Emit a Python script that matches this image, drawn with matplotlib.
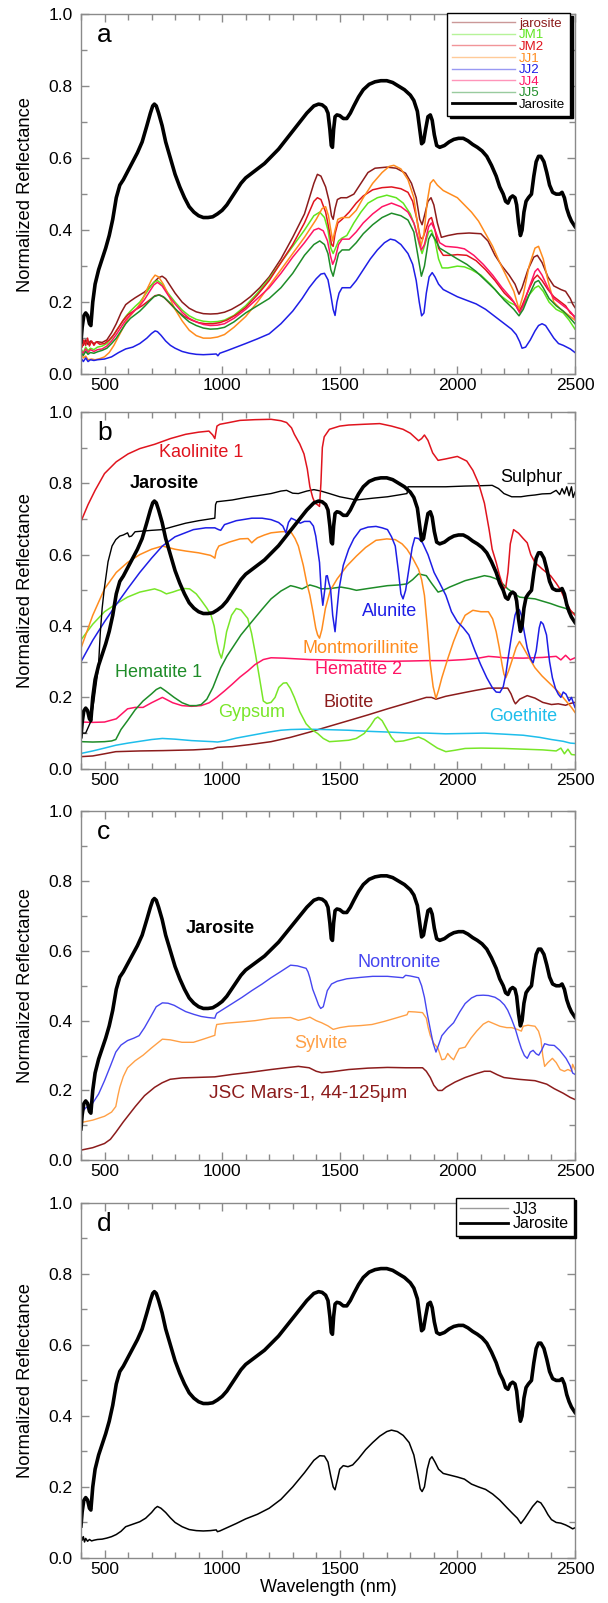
import matplotlib
matplotlib.use("Agg")
import matplotlib.pyplot as plt
from matplotlib.ticker import MultipleLocator, FormatStrFormatter
from matplotlib.lines import Line2D

plt.rcParams['font.family'] = ['Liberation Sans', 'DejaVu Sans']

# ---------------- data: (wavelength nm, normalized reflectance) ----------------
jarosite_ref = [(400,0.09),(405,0.13),(412,0.162),(420,0.17),(428,0.163),(436,0.14),(442,0.135),(450,0.2),(460,0.25),(475,0.29),(490,0.32),(505,0.35),(520,0.385),(535,0.43),(550,0.49),(565,0.525),(580,0.54),(600,0.565),(620,0.59),(640,0.615),(660,0.645),(680,0.69),(695,0.725),(705,0.745),(712,0.75),(720,0.745),(730,0.725),(745,0.69),(760,0.645),(780,0.6),(800,0.555),(820,0.52),(840,0.49),(860,0.465),(880,0.45),(900,0.44),(920,0.435),(940,0.435),(960,0.437),(980,0.445),(1000,0.455),(1020,0.47),(1040,0.49),(1060,0.51),(1080,0.53),(1100,0.545),(1120,0.555),(1150,0.57),(1180,0.585),(1210,0.605),(1240,0.625),(1270,0.65),(1300,0.675),(1330,0.7),(1360,0.725),(1390,0.745),(1410,0.75),(1425,0.748),(1440,0.74),(1450,0.725),(1458,0.68),(1464,0.635),(1469,0.63),(1474,0.68),(1480,0.715),(1488,0.72),(1500,0.718),(1515,0.71),(1530,0.71),(1545,0.725),(1560,0.745),(1580,0.77),(1600,0.79),(1625,0.805),(1650,0.812),(1675,0.815),(1700,0.815),(1725,0.81),(1750,0.8),(1775,0.79),(1800,0.775),(1815,0.76),(1830,0.73),(1840,0.68),(1848,0.64),(1856,0.645),(1865,0.68),(1875,0.715),(1885,0.72),(1893,0.705),(1902,0.665),(1912,0.635),(1925,0.63),(1945,0.635),(1965,0.645),(1985,0.652),(2005,0.655),(2025,0.655),(2045,0.648),(2065,0.638),(2085,0.63),(2105,0.62),(2125,0.605),(2145,0.58),(2165,0.55),(2180,0.52),(2195,0.5),(2205,0.48),(2215,0.475),(2225,0.49),(2235,0.495),(2245,0.49),(2252,0.47),(2260,0.42),(2268,0.385),(2275,0.4),(2283,0.45),(2292,0.48),(2302,0.49),(2315,0.5),(2325,0.55),(2335,0.59),(2345,0.605),(2355,0.605),(2368,0.59),(2380,0.56),(2392,0.525),(2405,0.505),(2420,0.5),(2435,0.5),(2445,0.505),(2455,0.49),(2465,0.46),(2475,0.44),(2485,0.425),(2500,0.41)]

# panel a samples
jarosite_lab = [(400,0.09),(410,0.08),(420,0.095),(430,0.082),(440,0.092),(455,0.085),(470,0.09),(490,0.088),(510,0.095),(530,0.115),(550,0.14),(570,0.17),(590,0.193),(610,0.203),(630,0.212),(650,0.22),(670,0.228),(690,0.24),(710,0.255),(730,0.268),(745,0.272),(760,0.265),(780,0.245),(800,0.225),(830,0.2),(860,0.183),(890,0.173),(920,0.168),(950,0.167),(980,0.168),(1010,0.172),(1040,0.18),(1080,0.195),(1120,0.215),(1160,0.24),(1200,0.27),(1250,0.32),(1300,0.38),(1350,0.445),(1390,0.53),(1405,0.555),(1420,0.55),(1440,0.52),(1455,0.48),(1465,0.44),(1472,0.43),(1480,0.46),(1490,0.485),(1505,0.49),(1530,0.49),(1560,0.5),(1590,0.53),(1620,0.56),(1650,0.572),(1700,0.575),(1740,0.572),(1780,0.558),(1805,0.53),(1825,0.49),(1840,0.43),(1850,0.415),(1860,0.44),(1875,0.48),(1888,0.49),(1900,0.47),(1915,0.42),(1932,0.38),(1960,0.385),(2000,0.39),(2050,0.392),(2100,0.39),(2130,0.37),(2160,0.33),(2190,0.3),(2220,0.275),(2245,0.25),(2262,0.222),(2275,0.24),(2300,0.29),(2325,0.325),(2340,0.33),(2360,0.31),(2385,0.27),(2410,0.245),(2440,0.235),(2460,0.23),(2470,0.22),(2480,0.21),(2490,0.195),(2500,0.185)]
jm1 = [(400,0.07),(410,0.06),(420,0.075),(430,0.065),(440,0.072),(455,0.068),(470,0.075),(490,0.078),(510,0.085),(530,0.1),(550,0.12),(570,0.14),(590,0.16),(610,0.175),(630,0.188),(650,0.2),(670,0.218),(690,0.238),(710,0.255),(725,0.26),(745,0.25),(770,0.225),(800,0.2),(830,0.178),(860,0.162),(890,0.152),(920,0.147),(950,0.145),(980,0.146),(1010,0.15),(1050,0.163),(1100,0.19),(1150,0.225),(1200,0.265),(1250,0.31),(1300,0.355),(1350,0.4),(1390,0.44),(1415,0.45),(1435,0.435),(1450,0.4),(1462,0.35),(1472,0.335),(1482,0.35),(1495,0.37),(1510,0.378),(1530,0.385),(1560,0.42),(1590,0.45),(1620,0.475),(1660,0.49),(1700,0.497),(1740,0.49),(1770,0.475),(1800,0.445),(1820,0.41),(1838,0.36),(1850,0.335),(1862,0.36),(1878,0.395),(1890,0.4),(1905,0.37),(1920,0.32),(1935,0.295),(1960,0.295),(2000,0.3),(2030,0.298),(2060,0.29),(2100,0.275),(2140,0.25),(2180,0.22),(2220,0.2),(2250,0.19),(2265,0.18),(2280,0.19),(2305,0.22),(2330,0.24),(2345,0.245),(2365,0.23),(2390,0.2),(2420,0.18),(2450,0.17),(2475,0.15),(2500,0.125)]
jm2 = [(400,0.09),(405,0.075),(412,0.095),(420,0.08),(428,0.1),(436,0.078),(445,0.092),(455,0.08),(465,0.09),(480,0.083),(500,0.085),(520,0.095),(540,0.11),(560,0.13),(580,0.15),(600,0.165),(630,0.178),(660,0.19),(690,0.205),(715,0.218),(735,0.22),(755,0.212),(780,0.195),(810,0.175),(840,0.16),(870,0.15),(900,0.143),(930,0.14),(960,0.14),(990,0.143),(1020,0.15),(1060,0.165),(1100,0.185),(1150,0.22),(1200,0.26),(1250,0.31),(1300,0.36),(1350,0.42),(1390,0.48),(1405,0.49),(1420,0.485),(1440,0.45),(1455,0.4),(1465,0.36),(1472,0.355),(1480,0.39),(1492,0.42),(1510,0.43),(1540,0.45),(1570,0.475),(1600,0.495),(1640,0.512),(1680,0.518),(1720,0.52),(1760,0.515),(1790,0.505),(1810,0.48),(1828,0.43),(1842,0.38),(1852,0.375),(1865,0.4),(1880,0.43),(1890,0.435),(1905,0.4),(1920,0.35),(1940,0.33),(1970,0.33),(2000,0.332),(2040,0.33),(2080,0.315),(2120,0.29),(2160,0.26),(2200,0.225),(2240,0.2),(2262,0.175),(2275,0.19),(2300,0.23),(2325,0.265),(2340,0.275),(2360,0.26),(2385,0.235),(2410,0.215),(2440,0.2),(2460,0.19),(2480,0.17),(2500,0.16)]
jj1 = [(400,0.06),(410,0.045),(420,0.05),(430,0.04),(445,0.042),(460,0.04),(480,0.043),(500,0.048),(520,0.06),(540,0.08),(560,0.105),(580,0.13),(600,0.155),(620,0.17),(640,0.185),(660,0.205),(680,0.235),(700,0.262),(715,0.275),(730,0.27),(750,0.25),(775,0.215),(800,0.18),(830,0.148),(860,0.122),(890,0.107),(920,0.1),(950,0.1),(980,0.103),(1010,0.11),(1050,0.13),(1100,0.16),(1150,0.2),(1200,0.245),(1250,0.29),(1300,0.335),(1350,0.38),(1400,0.43),(1425,0.46),(1440,0.465),(1452,0.44),(1462,0.4),(1470,0.37),(1480,0.4),(1492,0.43),(1510,0.435),(1540,0.435),(1570,0.455),(1600,0.49),(1640,0.53),(1680,0.56),(1710,0.577),(1730,0.58),(1760,0.57),(1790,0.54),(1815,0.49),(1830,0.42),(1845,0.355),(1858,0.39),(1872,0.48),(1885,0.53),(1898,0.54),(1915,0.525),(1940,0.51),(1970,0.5),(2000,0.49),(2030,0.47),(2060,0.45),(2090,0.425),(2120,0.39),(2150,0.355),(2180,0.31),(2210,0.27),(2240,0.23),(2262,0.18),(2280,0.22),(2305,0.3),(2330,0.35),(2345,0.355),(2365,0.32),(2385,0.26),(2410,0.2),(2440,0.18),(2470,0.165),(2500,0.15)]
jj2 = [(400,0.045),(410,0.035),(420,0.045),(430,0.035),(440,0.04),(455,0.038),(470,0.04),(500,0.042),(530,0.048),(560,0.06),(590,0.07),(620,0.075),(650,0.085),(680,0.1),(700,0.113),(715,0.12),(725,0.118),(740,0.108),(760,0.092),(780,0.08),(800,0.072),(830,0.063),(860,0.058),(890,0.055),(920,0.054),(950,0.055),(975,0.056),(982,0.051),(990,0.058),(1020,0.065),(1060,0.075),(1100,0.085),(1150,0.098),(1200,0.112),(1250,0.14),(1300,0.175),(1340,0.21),(1370,0.24),(1400,0.265),(1420,0.278),(1435,0.28),(1450,0.262),(1462,0.22),(1472,0.18),(1480,0.163),(1488,0.2),(1497,0.225),(1510,0.24),(1525,0.24),(1545,0.24),(1570,0.26),(1600,0.29),(1630,0.32),(1660,0.345),(1690,0.365),(1715,0.375),(1735,0.372),(1760,0.36),(1790,0.335),(1810,0.305),(1825,0.26),(1838,0.2),(1848,0.162),(1858,0.17),(1868,0.225),(1880,0.27),(1893,0.282),(1905,0.27),(1920,0.25),(1940,0.235),(1970,0.225),(2000,0.215),(2040,0.205),(2080,0.195),(2120,0.18),(2160,0.16),(2200,0.14),(2230,0.125),(2250,0.11),(2265,0.09),(2275,0.072),(2290,0.075),(2310,0.095),(2330,0.12),(2345,0.135),(2360,0.14),(2375,0.135),(2390,0.12),(2410,0.1),(2430,0.085),(2450,0.08),(2465,0.075),(2480,0.07),(2490,0.065),(2500,0.06)]
jj4 = [(400,0.065),(410,0.058),(420,0.07),(430,0.06),(440,0.068),(455,0.063),(470,0.068),(490,0.07),(510,0.078),(530,0.092),(550,0.11),(570,0.13),(590,0.15),(610,0.165),(630,0.178),(650,0.19),(670,0.207),(690,0.228),(710,0.248),(725,0.255),(745,0.245),(770,0.22),(800,0.195),(830,0.172),(860,0.155),(890,0.145),(920,0.138),(950,0.135),(980,0.136),(1010,0.14),(1050,0.155),(1100,0.18),(1150,0.21),(1200,0.24),(1250,0.28),(1300,0.325),(1350,0.365),(1390,0.4),(1410,0.405),(1430,0.398),(1448,0.37),(1460,0.33),(1470,0.305),(1480,0.32),(1495,0.36),(1510,0.375),(1540,0.375),(1570,0.395),(1600,0.42),(1640,0.445),(1680,0.465),(1720,0.475),(1760,0.465),(1790,0.45),(1815,0.42),(1832,0.38),(1847,0.345),(1860,0.36),(1878,0.41),(1890,0.42),(1905,0.4),(1925,0.365),(1950,0.355),(2000,0.352),(2030,0.348),(2070,0.33),(2110,0.305),(2150,0.275),(2190,0.24),(2230,0.21),(2250,0.19),(2265,0.17),(2280,0.19),(2305,0.24),(2330,0.285),(2342,0.293),(2360,0.275),(2385,0.24),(2410,0.21),(2440,0.195),(2470,0.18),(2485,0.17),(2500,0.155)]
jj5 = [(400,0.06),(410,0.052),(420,0.063),(430,0.055),(440,0.06),(455,0.058),(470,0.062),(490,0.066),(510,0.072),(530,0.085),(550,0.1),(570,0.12),(590,0.14),(610,0.155),(630,0.165),(650,0.175),(670,0.188),(690,0.202),(710,0.215),(730,0.22),(750,0.215),(775,0.2),(800,0.182),(830,0.162),(860,0.145),(890,0.135),(920,0.128),(950,0.125),(980,0.126),(1010,0.13),(1050,0.145),(1100,0.17),(1150,0.19),(1200,0.21),(1250,0.24),(1300,0.28),(1350,0.33),(1390,0.36),(1415,0.37),(1435,0.36),(1450,0.335),(1462,0.29),(1472,0.272),(1482,0.3),(1495,0.335),(1510,0.345),(1540,0.345),(1570,0.365),(1600,0.39),(1640,0.415),(1680,0.435),(1720,0.447),(1760,0.44),(1790,0.428),(1815,0.395),(1832,0.33),(1847,0.272),(1860,0.3),(1878,0.375),(1890,0.39),(1905,0.375),(1925,0.35),(1950,0.34),(2000,0.32),(2040,0.305),(2080,0.285),(2120,0.26),(2160,0.235),(2200,0.205),(2240,0.18),(2262,0.162),(2280,0.18),(2305,0.22),(2330,0.255),(2345,0.26),(2365,0.24),(2390,0.21),(2420,0.19),(2450,0.175),(2480,0.155),(2500,0.14)]

# panel b reference minerals
kaolinite = [(400,0.693),(430,0.74),(460,0.78),(500,0.827),(550,0.86),(600,0.882),(650,0.897),(713,0.909),(780,0.925),(845,0.937),(900,0.943),(944,0.946),(960,0.935),(969,0.925),(978,0.96),(990,0.965),(1030,0.97),(1076,0.976),(1140,0.978),(1208,0.979),(1250,0.975),(1274,0.97),(1295,0.955),(1307,0.937),(1330,0.91),(1348,0.882),(1362,0.84),(1373,0.79),(1385,0.76),(1395,0.744),(1405,0.74),(1414,0.735),(1420,0.8),(1426,0.9),(1434,0.93),(1456,0.951),(1500,0.96),(1538,0.963),(1600,0.965),(1670,0.967),(1720,0.96),(1769,0.951),(1800,0.94),(1835,0.919),(1848,0.925),(1860,0.935),(1875,0.92),(1895,0.885),(1918,0.864),(1950,0.868),(2000,0.875),(2040,0.862),(2066,0.836),(2090,0.8),(2115,0.744),(2135,0.67),(2148,0.615),(2165,0.578),(2180,0.54),(2198,0.504),(2206,0.51),(2215,0.55),(2225,0.63),(2239,0.67),(2260,0.66),(2280,0.645),(2297,0.633),(2312,0.6),(2330,0.578),(2360,0.56),(2396,0.541),(2420,0.52),(2440,0.5),(2462,0.467),(2480,0.445),(2500,0.43)]
sulphur = [(400,0.1),(420,0.1),(440,0.13),(455,0.19),(465,0.24),(474,0.283),(482,0.38),(490,0.45),(499,0.504),(515,0.58),(532,0.624),(548,0.642),(565,0.652),(580,0.655),(598,0.661),(605,0.65),(615,0.652),(630,0.664),(664,0.666),(700,0.668),(746,0.67),(800,0.68),(845,0.688),(900,0.695),(969,0.702),(972,0.74),(977,0.748),(1043,0.753),(1100,0.76),(1150,0.765),(1208,0.771),(1250,0.778),(1274,0.78),(1300,0.772),(1324,0.771),(1360,0.778),(1390,0.782),(1420,0.778),(1456,0.771),(1500,0.762),(1571,0.753),(1640,0.758),(1703,0.762),(1750,0.767),(1786,0.771),(1790,0.79),(1868,0.79),(1950,0.79),(2033,0.792),(2100,0.793),(2148,0.794),(2175,0.785),(2198,0.771),(2231,0.762),(2270,0.762),(2300,0.765),(2330,0.767),(2360,0.77),(2396,0.771),(2420,0.78),(2435,0.768),(2445,0.785),(2455,0.77),(2465,0.79),(2475,0.765),(2485,0.79),(2492,0.76),(2500,0.775)]
alunite = [(400,0.3),(450,0.36),(500,0.412),(550,0.46),(598,0.504),(650,0.55),(700,0.59),(746,0.624),(800,0.65),(878,0.67),(930,0.675),(969,0.675),(985,0.67),(994,0.668),(1010,0.684),(1060,0.695),(1126,0.702),(1170,0.702),(1208,0.698),(1240,0.69),(1258,0.68),(1271,0.661),(1282,0.69),(1294,0.702),(1310,0.697),(1332,0.688),(1350,0.693),(1373,0.693),(1388,0.68),(1398,0.652),(1407,0.61),(1414,0.578),(1421,0.5),(1428,0.458),(1436,0.5),(1442,0.54),(1447,0.541),(1454,0.52),(1461,0.504),(1470,0.43),(1480,0.384),(1489,0.45),(1497,0.504),(1515,0.57),(1538,0.615),(1560,0.645),(1588,0.67),(1620,0.677),(1654,0.679),(1680,0.675),(1703,0.67),(1720,0.65),(1736,0.624),(1750,0.55),(1760,0.49),(1769,0.476),(1780,0.5),(1794,0.56),(1808,0.62),(1819,0.647),(1835,0.645),(1852,0.633),(1875,0.6),(1901,0.55),(1925,0.52),(1951,0.486),(1975,0.44),(2000,0.412),(2025,0.395),(2049,0.375),(2075,0.33),(2099,0.292),(2125,0.255),(2148,0.228),(2165,0.215),(2181,0.214),(2195,0.23),(2206,0.265),(2218,0.32),(2231,0.375),(2245,0.43),(2256,0.449),(2264,0.445),(2272,0.43),(2285,0.38),(2297,0.338),(2310,0.31),(2322,0.297),(2335,0.33),(2348,0.395),(2355,0.412),(2365,0.405),(2379,0.375),(2392,0.3),(2404,0.255),(2417,0.225),(2429,0.209),(2440,0.2),(2450,0.215),(2462,0.209),(2475,0.19),(2485,0.2),(2500,0.172)]
montmorillinite = [(400,0.338),(450,0.43),(500,0.504),(550,0.55),(598,0.578),(650,0.6),(700,0.615),(746,0.624),(800,0.615),(845,0.61),(900,0.605),(950,0.598),(961,0.594),(969,0.59),(975,0.61),(986,0.624),(1030,0.635),(1076,0.644),(1110,0.645),(1126,0.633),(1137,0.64),(1150,0.647),(1180,0.655),(1208,0.661),(1250,0.664),(1291,0.665),(1310,0.645),(1324,0.624),(1345,0.57),(1360,0.52),(1373,0.486),(1386,0.44),(1398,0.394),(1406,0.375),(1414,0.366),(1424,0.39),(1439,0.449),(1460,0.5),(1489,0.532),(1530,0.568),(1571,0.596),(1610,0.62),(1654,0.64),(1700,0.644),(1736,0.642),(1765,0.63),(1786,0.615),(1810,0.59),(1835,0.559),(1848,0.53),(1860,0.486),(1872,0.4),(1885,0.292),(1897,0.23),(1909,0.197),(1920,0.22),(1934,0.255),(1960,0.31),(1984,0.357),(2010,0.4),(2033,0.43),(2066,0.444),(2100,0.44),(2132,0.44),(2150,0.42),(2165,0.384),(2178,0.34),(2190,0.292),(2198,0.265),(2206,0.255),(2218,0.275),(2231,0.301),(2250,0.34),(2264,0.357),(2280,0.34),(2297,0.32),(2330,0.283),(2360,0.26),(2396,0.237),(2430,0.215),(2462,0.19),(2485,0.172),(2500,0.158)]
hematite1 = [(400,0.076),(450,0.075),(500,0.076),(530,0.078),(548,0.082),(570,0.11),(598,0.135),(630,0.165),(664,0.19),(700,0.21),(720,0.222),(738,0.228),(760,0.218),(796,0.2),(830,0.185),(862,0.177),(890,0.177),(911,0.18),(935,0.195),(961,0.228),(980,0.26),(994,0.283),(1020,0.315),(1043,0.338),(1080,0.375),(1126,0.412),(1170,0.447),(1208,0.476),(1250,0.498),(1291,0.513),(1310,0.51),(1340,0.504),(1373,0.515),(1400,0.51),(1423,0.504),(1460,0.505),(1505,0.509),(1540,0.505),(1571,0.5),(1620,0.505),(1703,0.513),(1750,0.515),(1786,0.518),(1810,0.53),(1835,0.546),(1868,0.541),(1890,0.52),(1918,0.495),(1940,0.5),(1967,0.509),(2000,0.518),(2033,0.527),(2080,0.535),(2115,0.541),(2140,0.538),(2165,0.532),(2190,0.52),(2214,0.504),(2240,0.492),(2264,0.481),(2300,0.478),(2330,0.476),(2360,0.47),(2396,0.463),(2430,0.455),(2462,0.449),(2480,0.44),(2500,0.435)]
hematite2 = [(400,0.131),(450,0.13),(500,0.131),(550,0.14),(598,0.168),(630,0.172),(664,0.172),(700,0.185),(746,0.2),(790,0.185),(829,0.177),(870,0.175),(911,0.177),(945,0.185),(977,0.2),(1010,0.218),(1043,0.237),(1076,0.257),(1109,0.274),(1140,0.292),(1175,0.306),(1208,0.311),(1260,0.31),(1373,0.306),(1450,0.305),(1538,0.303),(1620,0.302),(1703,0.301),(1800,0.302),(1868,0.303),(1950,0.303),(2033,0.306),(2090,0.31),(2132,0.315),(2170,0.313),(2198,0.311),(2280,0.31),(2363,0.312),(2420,0.315),(2440,0.305),(2460,0.318),(2480,0.305),(2500,0.311)]
gypsum = [(400,0.361),(450,0.405),(500,0.44),(550,0.462),(598,0.481),(650,0.495),(713,0.504),(740,0.498),(763,0.49),(790,0.495),(812,0.5),(840,0.505),(862,0.504),(890,0.49),(911,0.472),(935,0.45),(953,0.43),(966,0.4),(977,0.357),(988,0.325),(997,0.31),(1008,0.34),(1019,0.384),(1040,0.43),(1060,0.449),(1080,0.445),(1109,0.421),(1125,0.38),(1142,0.32),(1160,0.25),(1175,0.19),(1190,0.183),(1208,0.186),(1225,0.2),(1241,0.228),(1260,0.24),(1274,0.241),(1290,0.225),(1307,0.2),(1330,0.16),(1357,0.126),(1380,0.11),(1406,0.099),(1430,0.085),(1456,0.076),(1500,0.078),(1538,0.08),(1570,0.085),(1604,0.099),(1630,0.12),(1650,0.14),(1662,0.145),(1680,0.135),(1703,0.108),(1720,0.088),(1736,0.076),(1770,0.078),(1800,0.083),(1835,0.089),(1860,0.082),(1885,0.071),(1915,0.058),(1951,0.048),(1990,0.052),(2033,0.057),(2100,0.058),(2198,0.057),(2280,0.055),(2363,0.053),(2420,0.05),(2440,0.058),(2455,0.042),(2470,0.055),(2485,0.04),(2500,0.039)]
goethite = [(400,0.043),(450,0.05),(500,0.058),(548,0.066),(600,0.072),(650,0.077),(700,0.082),(746,0.085),(800,0.083),(870,0.079),(930,0.077),(961,0.076),(980,0.075),(1010,0.078),(1060,0.086),(1126,0.094),(1200,0.103),(1250,0.108),(1291,0.11),(1350,0.111),(1430,0.11),(1538,0.108),(1620,0.105),(1703,0.103),(1800,0.1),(1868,0.1),(1950,0.098),(2033,0.099),(2115,0.1),(2200,0.097),(2280,0.094),(2350,0.088),(2400,0.082),(2450,0.077),(2480,0.072),(2500,0.071)]
biotite = [(400,0.034),(450,0.036),(500,0.042),(548,0.048),(650,0.05),(750,0.051),(878,0.053),(960,0.056),(980,0.06),(1043,0.062),(1120,0.068),(1208,0.076),(1290,0.088),(1373,0.103),(1450,0.118),(1538,0.135),(1620,0.151),(1703,0.168),(1786,0.184),(1868,0.2),(1890,0.2),(1909,0.195),(1950,0.203),(2033,0.214),(2080,0.22),(2132,0.226),(2180,0.226),(2214,0.226),(2228,0.21),(2240,0.19),(2247,0.182),(2265,0.195),(2297,0.205),(2330,0.198),(2363,0.186),(2400,0.18),(2429,0.182),(2460,0.178),(2480,0.183),(2500,0.186)]

# panel c
nontronite = [(400,0.135),(420,0.15),(449,0.163),(475,0.19),(500,0.228),(525,0.27),(548,0.31),(570,0.33),(598,0.343),(625,0.35),(647,0.357),(670,0.38),(697,0.412),(720,0.44),(746,0.451),(770,0.45),(796,0.444),(820,0.435),(845,0.426),(880,0.418),(911,0.412),(940,0.409),(969,0.407),(973,0.415),(977,0.421),(1010,0.435),(1043,0.449),(1085,0.467),(1126,0.486),(1170,0.505),(1208,0.523),(1250,0.541),(1291,0.559),(1320,0.557),(1357,0.55),(1365,0.54),(1373,0.523),(1385,0.49),(1398,0.467),(1410,0.445),(1419,0.435),(1430,0.44),(1447,0.486),(1465,0.505),(1489,0.513),(1530,0.52),(1588,0.524),(1640,0.527),(1703,0.527),(1769,0.523),(1780,0.53),(1800,0.528),(1835,0.523),(1848,0.5),(1860,0.467),(1872,0.42),(1885,0.375),(1897,0.335),(1909,0.31),(1920,0.33),(1934,0.357),(1960,0.378),(1984,0.394),(2010,0.425),(2033,0.449),(2060,0.465),(2082,0.472),(2110,0.473),(2132,0.472),(2160,0.467),(2181,0.458),(2200,0.445),(2214,0.43),(2230,0.405),(2247,0.375),(2260,0.345),(2272,0.32),(2285,0.3),(2297,0.292),(2310,0.31),(2322,0.315),(2335,0.305),(2346,0.301),(2358,0.315),(2371,0.334),(2390,0.33),(2412,0.329),(2435,0.315),(2462,0.292),(2480,0.27),(2490,0.25),(2500,0.246)]
sylvite = [(400,0.108),(450,0.115),(500,0.126),(530,0.138),(548,0.154),(557,0.185),(565,0.209),(580,0.24),(598,0.265),(630,0.285),(664,0.301),(700,0.322),(746,0.347),(780,0.345),(829,0.338),(878,0.338),(920,0.347),(969,0.358),(972,0.375),(977,0.389),(1020,0.393),(1076,0.396),(1140,0.4),(1208,0.407),(1291,0.409),(1324,0.401),(1350,0.405),(1373,0.41),(1400,0.4),(1423,0.394),(1450,0.385),(1472,0.375),(1500,0.38),(1538,0.384),(1590,0.386),(1637,0.389),(1690,0.398),(1736,0.407),(1786,0.417),(1792,0.426),(1820,0.425),(1852,0.423),(1868,0.407),(1876,0.38),(1885,0.357),(1900,0.335),(1918,0.32),(1934,0.288),(1947,0.29),(1959,0.306),(1972,0.295),(1984,0.288),(1996,0.305),(2008,0.32),(2033,0.324),(2058,0.35),(2082,0.37),(2110,0.39),(2132,0.398),(2160,0.39),(2181,0.384),(2210,0.38),(2231,0.38),(2255,0.375),(2272,0.37),(2280,0.384),(2300,0.387),(2330,0.384),(2345,0.37),(2355,0.347),(2363,0.3),(2371,0.269),(2385,0.28),(2404,0.292),(2420,0.28),(2437,0.26),(2455,0.255),(2470,0.26),(2485,0.255),(2490,0.275),(2500,0.26)]
jsc_mars1 = [(400,0.029),(450,0.036),(500,0.048),(525,0.06),(548,0.08),(580,0.11),(631,0.154),(670,0.185),(713,0.209),(745,0.222),(779,0.232),(830,0.236),(878,0.237),(969,0.239),(1043,0.246),(1120,0.252),(1208,0.26),(1270,0.265),(1324,0.269),(1370,0.265),(1400,0.255),(1423,0.251),(1470,0.254),(1538,0.26),(1620,0.264),(1703,0.266),(1780,0.265),(1852,0.265),(1868,0.255),(1885,0.237),(1900,0.215),(1918,0.2),(1935,0.2),(1951,0.209),(1990,0.224),(2033,0.237),(2080,0.248),(2115,0.255),(2140,0.255),(2170,0.245),(2198,0.237),(2260,0.232),(2330,0.228),(2380,0.218),(2412,0.205),(2450,0.192),(2480,0.18),(2500,0.174)]

# panel d
jj3 = [(400,0.065),(405,0.05),(410,0.06),(415,0.045),(420,0.055),(428,0.047),(436,0.052),(445,0.048),(455,0.05),(470,0.052),(490,0.053),(510,0.056),(530,0.06),(550,0.066),(570,0.075),(590,0.088),(620,0.095),(650,0.102),(675,0.112),(700,0.128),(715,0.14),(725,0.145),(740,0.14),(760,0.128),(780,0.113),(800,0.1),(830,0.088),(860,0.08),(890,0.077),(920,0.076),(950,0.077),(975,0.079),(980,0.074),(990,0.076),(1020,0.085),(1060,0.097),(1100,0.11),(1150,0.123),(1200,0.14),(1250,0.165),(1300,0.2),(1350,0.24),(1390,0.275),(1415,0.288),(1435,0.287),(1450,0.27),(1462,0.23),(1472,0.2),(1480,0.192),(1490,0.22),(1500,0.25),(1515,0.26),(1535,0.257),(1555,0.262),(1580,0.28),(1610,0.305),(1640,0.325),(1670,0.343),(1700,0.356),(1720,0.36),(1745,0.356),(1770,0.345),(1795,0.325),(1815,0.29),(1830,0.24),(1842,0.195),(1850,0.187),(1860,0.2),(1872,0.25),(1883,0.278),(1892,0.285),(1905,0.27),(1920,0.25),(1940,0.238),(1970,0.233),(2000,0.228),(2030,0.222),(2060,0.208),(2090,0.2),(2120,0.193),(2150,0.18),(2180,0.163),(2210,0.142),(2235,0.125),(2255,0.112),(2270,0.097),(2285,0.11),(2300,0.125),(2320,0.145),(2340,0.16),(2355,0.155),(2370,0.14),(2385,0.122),(2400,0.108),(2420,0.1),(2440,0.098),(2460,0.093),(2475,0.088),(2490,0.082),(2500,0.085)]

legend_a_labels = ['jarosite', 'JM1', 'JM2', 'JJ1', 'JJ2', 'JJ4', 'JJ5', 'Jarosite']
legend_d_labels = ['JJ3', 'Jarosite']
panel_letters = ['a', 'b', 'c', 'd']
x_ticks = [500, 1000, 1500, 2000, 2500]
y_ticks = [0.0, 0.2, 0.4, 0.6, 0.8, 1.0]

# ---------------- styling ----------------
C_MAROON = '#8c1c1c'
C_LIME = '#5fe61e'
C_RED = '#e0141e'
C_ORANGE = '#ff8c1e'
C_BLUE = '#1e1ee6'
C_PINK = '#ff1464'
C_GREEN = '#1e8c28'
C_CYAN = '#1ebeeb'
C_GYPSUM = '#78e628'
C_NONTRO = '#4646f0'
C_SYLV = '#ffa046'

JAR_LW = 2.6
THIN = 1.1

fig = plt.figure(figsize=(6.08, 16.03), dpi=100)
L, W = 0.1332, 0.8125
boxes = [(0.7666, 0.2246), (0.5204, 0.2227), (0.2762, 0.2177), (0.0281, 0.2215)]
axes = [fig.add_axes([L, b, W, h]) for b, h in boxes]


def curve(ax, data, color, lw=THIN, **kw):
    xs = [p[0] for p in data]
    ys = [p[1] for p in data]
    return ax.plot(xs, ys, color=color, lw=lw, solid_joinstyle='round', **kw)[0]


for ax, letter in zip(axes, panel_letters):
    ax.set_xlim(400, 2500)
    ax.set_ylim(0, 1)
    ax.set_xticks(x_ticks)
    ax.set_yticks(y_ticks)
    ax.xaxis.set_minor_locator(MultipleLocator(100))
    ax.yaxis.set_minor_locator(MultipleLocator(0.1))
    ax.yaxis.set_major_formatter(FormatStrFormatter('%.1f'))
    ax.tick_params(which='both', direction='in', top=True, right=True,
                   color='#8a8a8a', width=1.0, labelsize=12.5, labelcolor='black')
    ax.tick_params(which='major', length=6)
    ax.tick_params(which='minor', length=4)
    ax.tick_params(axis='x', which='major', pad=3)
    ax.tick_params(axis='y', which='major', pad=6)
    for s in ax.spines.values():
        s.set_color('#8a8a8a')
        s.set_linewidth(1.0)
    ax.set_ylabel('Normalized Reflectance', fontsize=13.2)
    ax.yaxis.set_label_coords(-0.095, 0.5)
    ax.text(0.033, 0.975, letter, transform=ax.transAxes, fontsize=19,
            va='top', ha='left')

# ---- panel a ----
ax = axes[0]
series_a = [(jarosite_lab, C_MAROON), (jm1, C_LIME), (jm2, C_RED), (jj1, C_ORANGE),
            (jj2, C_BLUE), (jj4, C_PINK), (jj5, C_GREEN)]
for data, col in series_a:
    curve(ax, data, col)
curve(ax, jarosite_ref, 'black', lw=JAR_LW)
handles = [Line2D([], [], color=col, lw=1.0, alpha=0.45) for _, col in series_a]
handles.append(Line2D([], [], color='black', lw=2.0))
leg = ax.legend(handles, legend_a_labels, loc='upper right',
                bbox_to_anchor=(0.99, 1.003), borderaxespad=0.0, fontsize=9.5,
                labelspacing=-0.05, handlelength=4.8, handletextpad=0.3,
                borderpad=0.35, fancybox=False, framealpha=1, edgecolor='black',
                shadow={'color': 'black', 'alpha': 1.0})
leg.get_frame().set_linewidth(1.0)
for t, (_, col) in zip(leg.get_texts(), series_a + [(None, 'black')]):
    t.set_color(col)

# ---- panel b ----
ax = axes[1]
curve(ax, biotite, C_MAROON)
curve(ax, goethite, C_CYAN)
curve(ax, gypsum, C_GYPSUM)
curve(ax, hematite2, C_PINK)
curve(ax, hematite1, C_GREEN)
curve(ax, montmorillinite, C_ORANGE)
curve(ax, alunite, C_BLUE)
curve(ax, sulphur, 'black', lw=1.0)
curve(ax, kaolinite, C_RED)
curve(ax, jarosite_ref, 'black', lw=JAR_LW)
lab = dict(fontsize=13, ha='center', va='center')
ax.text(911, 0.885, 'Kaolinite 1', color=C_RED, **lab)
ax.text(755, 0.80, 'Jarosite', color='black', fontweight='bold', **lab)
ax.text(2313, 0.817, 'Sulphur', color='black', **lab)
ax.text(1711, 0.44, 'Alunite', color=C_BLUE, **lab)
ax.text(1588, 0.338, 'Montmorillinite', color=C_ORANGE, **lab)
ax.text(730, 0.27, 'Hematite 1', color=C_GREEN, **lab)
ax.text(1579, 0.277, 'Hematite 2', color=C_PINK, **lab)
ax.text(1126, 0.157, 'Gypsum', color=C_GYPSUM, **lab)
ax.text(1538, 0.187, 'Biotite', color=C_MAROON, **lab)
ax.text(2280, 0.147, 'Goethite', color=C_CYAN, **lab)

# ---- panel c ----
ax = axes[2]
curve(ax, jsc_mars1, C_MAROON)
curve(ax, sylvite, C_SYLV, lw=1.0)
curve(ax, nontronite, C_NONTRO, lw=1.0)
curve(ax, jarosite_ref, 'black', lw=JAR_LW)
ax.text(994, 0.665, 'Jarosite', color='black', fontweight='bold', **lab)
ax.text(1752, 0.567, 'Nontronite', color=C_NONTRO, **lab)
ax.text(1419, 0.334, 'Sylvite', color=C_SYLV, **lab)
ax.text(1365, 0.191, 'JSC Mars-1, 44-125\u03bcm', color=C_MAROON,
        fontsize=13.8, ha='center', va='center')

# ---- panel d ----
ax = axes[3]
curve(ax, jj3, 'black', lw=1.1)
curve(ax, jarosite_ref, 'black', lw=JAR_LW)
hd = [Line2D([], [], color='#9a9a9a', lw=1.0), Line2D([], [], color='black', lw=2.0)]
leg = ax.legend(hd, legend_d_labels, loc='upper right',
                bbox_to_anchor=(0.997, 1.015), borderaxespad=0.0, fontsize=11.5,
                labelspacing=-0.05, handlelength=3.0, handletextpad=0.3,
                borderpad=0.28, fancybox=False, framealpha=1, edgecolor='black',
                shadow={'color': 'black', 'alpha': 1.0})
leg.get_frame().set_linewidth(1.0)
ax.set_xlabel('Wavelength (nm)', fontsize=13)
ax.xaxis.set_label_coords(0.5, -0.058)

fig.savefig('out.png', dpi=100)
